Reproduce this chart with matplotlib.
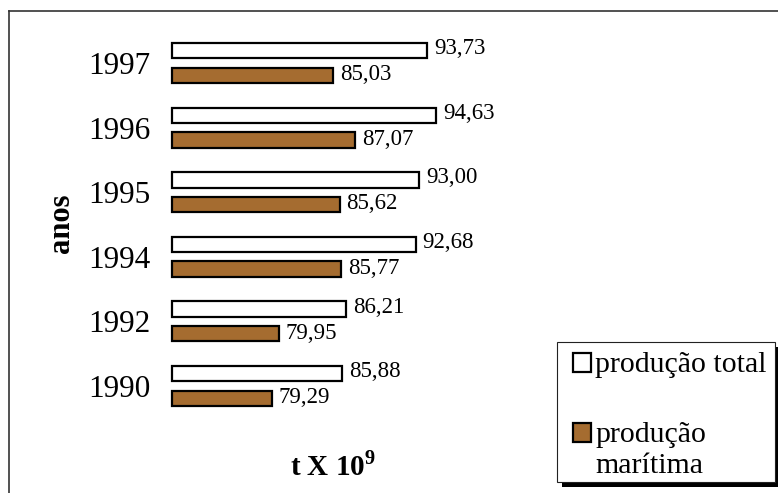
import numpy as np
import matplotlib
matplotlib.use('Agg')
import matplotlib.pyplot as plt
from matplotlib.patches import Rectangle
from matplotlib.lines import Line2D

anos = ['1990', '1992', '1994', '1995', '1996', '1997']
producao_total = [85.88, 86.21, 92.68, 93.00, 94.63, 93.73]
producao_maritima = [79.29, 79.95, 85.77, 85.62, 87.07, 85.03]

plt.rcParams['font.family'] = 'Liberation Serif'
plt.rcParams['mathtext.fontset'] = 'custom'
plt.rcParams['mathtext.rm'] = 'Liberation Serif'
plt.rcParams['mathtext.bf'] = 'Liberation Serif:bold'

W, H = 778, 493
castanho = '#a56c30'


def fx(px):
    return px / W


def fy(py):
    return 1 - py / H


fig = plt.figure(figsize=(W / 100, H / 100), dpi=100)
ax = fig.add_axes([fx(171.7), fy(418.3), 322.5 / W, 387.6 / H])

x0 = 70
y = np.arange(len(anos))
tot = np.array(producao_total)
mar = np.array(producao_maritima)

ax.barh(y + 0.19, tot - x0, left=x0, height=0.24, color='white',
        edgecolor='black', linewidth=1.6, clip_on=False)
ax.barh(y - 0.19, mar - x0, left=x0, height=0.24, color=castanho,
        edgecolor='black', linewidth=1.6, clip_on=False)

for yy, v in zip(y, tot):
    ax.text(v + 0.65, yy + 0.22, f'{v:.2f}'.replace('.', ','),
            va='center', ha='left', fontsize=16.5)
for yy, v in zip(y, mar):
    ax.text(v + 0.6, yy - 0.18, f'{v:.2f}'.replace('.', ','),
            va='center', ha='left', fontsize=16.5)

ax.set_xlim(x0, 100)
ax.set_ylim(-0.5, 5.5)
ax.set_yticks(y, anos)
ax.set_xticks([])
ax.tick_params(axis='y', length=0, pad=15, labelsize=22.5)
for s in ax.spines.values():
    s.set_visible(False)

fig.text(fx(62), fy(223.5), 'anos', rotation=90, fontweight='bold',
         fontsize=22, ha='center', va='center')
fig.text(fx(333), fy(466), r't X 10$^{\mathbf{9}}$', fontweight='bold',
         fontsize=21, ha='center', va='center')

# moldura exterior (só esquerda e topo visíveis)
fig.add_artist(Line2D([fx(9), fx(9)], [fy(11), 0], transform=fig.transFigure,
                      color='#333333', lw=1.2))
fig.add_artist(Line2D([fx(9), 1], [fy(11), fy(11)], transform=fig.transFigure,
                      color='#333333', lw=1.2))

# legenda com sombra
bx, by, bw, bh = 557, 342, 218, 140
fig.add_artist(Rectangle((fx(bx + 5), fy(by + bh + 5)), fx(bw), bh / H,
                         transform=fig.transFigure, facecolor='black',
                         edgecolor='none'))
fig.add_artist(Rectangle((fx(bx), fy(by + bh)), fx(bw), bh / H,
                         transform=fig.transFigure, facecolor='white',
                         edgecolor='#222222', lw=0.8))
fig.add_artist(Rectangle((fx(573), fy(372)), fx(18), 19 / H,
                         transform=fig.transFigure, facecolor='white',
                         edgecolor='black', lw=1.6))
fig.add_artist(Rectangle((fx(573), fy(442)), fx(18), 19 / H,
                         transform=fig.transFigure, facecolor=castanho,
                         edgecolor='black', lw=1.6))
fig.text(fx(595), fy(372), 'produção total', fontsize=21.5, va='baseline')
fig.text(fx(595), fy(442), 'produção', fontsize=21.5, va='baseline')
fig.text(fx(595), fy(473), 'marítima', fontsize=21.5, va='baseline')

fig.savefig('out.png', dpi=100)
